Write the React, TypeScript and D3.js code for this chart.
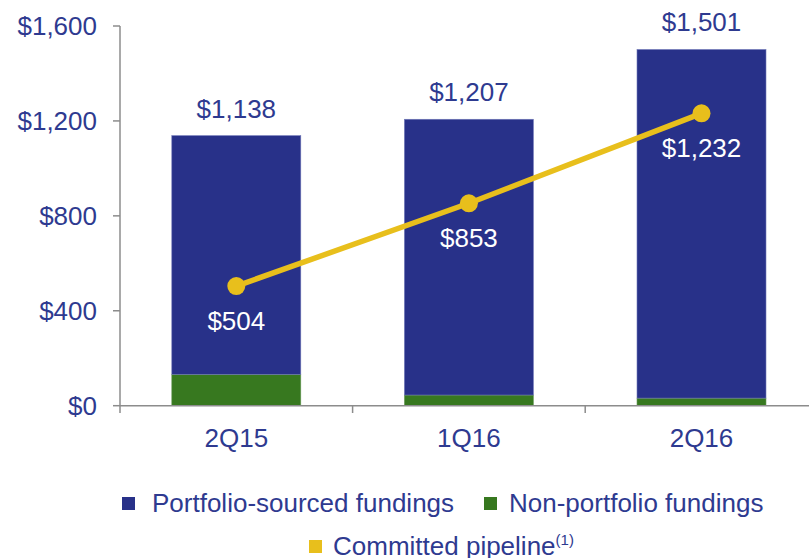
import * as d3 from 'd3';

// values in $ millions
const quarters = ['2Q15', '1Q16', '2Q16'];
const totals = [1138, 1207, 1501];
const nonPortfolio = [132, 45, 32];
const portfolio = totals.map((t, i) => t - nonPortfolio[i]);
const pipeline = [504, 853, 1232];
const yTicks = [0, 400, 800, 1200, 1600];

const NAVY = '#283189';
const GREEN = '#37781f';
const GOLD = '#e8bf1c';
const TEXT = '#2e3a90';
const AXIS = '#8c8c8c';
const FONT = '"Liberation Sans", Arial, sans-serif';
const FS = 26;

function App() {
  const width = 809;
  const height = 558;

  const y = d3.scaleLinear().domain([0, 1600]).range([405.7, 26]);
  const x = d3
    .scaleBand<string>()
    .domain(quarters)
    .range([120, 817.8])
    .paddingInner(0.4454)
    .paddingOuter(0.2227);

  const bw = x.bandwidth();
  const cx = (q: string) => (x(q) as number) + bw / 2;
  const step = x.step();

  const line = d3
    .line<number>()
    .x((_, i) => cx(quarters[i]))
    .y((d) => y(d));

  return (
    <svg
      width={width}
      height={height}
      style={{ position: 'absolute', left: 0, top: 0, background: '#fff' }}
      fontFamily={FONT}
    >
      {/* bars: non-portfolio at the bottom, portfolio-sourced stacked on top */}
      {quarters.map((q, i) => (
        <g key={q}>
          <rect
            x={x(q)}
            y={y(nonPortfolio[i])}
            width={bw}
            height={y(0) - y(nonPortfolio[i])}
            fill={GREEN}
            stroke="#6a9a5a"
            strokeWidth={0.6}
          />
          <rect
            x={x(q)}
            y={y(nonPortfolio[i] + portfolio[i])}
            width={bw}
            height={y(nonPortfolio[i]) - y(totals[i])}
            fill={NAVY}
            stroke="#7078b8"
            strokeWidth={0.6}
          />
          <text
            x={cx(q)}
            y={y(totals[i]) - 18}
            textAnchor="middle"
            fontSize={FS}
            fill={TEXT}
          >
            {d3.format('$,')(totals[i])}
          </text>
        </g>
      ))}

      {/* axes */}
      <line x1={120} x2={120} y1={26} y2={413} stroke={AXIS} strokeWidth={1.5} />
      <line x1={120} x2={809} y1={405.7} y2={405.7} stroke={AXIS} strokeWidth={1.5} />
      {yTicks.map((t) => (
        <g key={t}>
          <line x1={113} x2={120} y1={y(t)} y2={y(t)} stroke={AXIS} strokeWidth={1.5} />
          <text
            x={97}
            y={y(t)}
            dy="0.36em"
            textAnchor="end"
            fontSize={FS}
            fill={TEXT}
          >
            {d3.format('$,')(t)}
          </text>
        </g>
      ))}
      {[1, 2].map((i) => (
        <line
          key={i}
          x1={120 + step * i}
          x2={120 + step * i}
          y1={405.7}
          y2={413}
          stroke={AXIS}
          strokeWidth={1.5}
        />
      ))}
      {quarters.map((q) => (
        <text key={q} x={cx(q)} y={447} textAnchor="middle" fontSize={FS} fill={TEXT}>
          {q}
        </text>
      ))}

      {/* committed pipeline line */}
      <path d={line(pipeline) || ''} fill="none" stroke={GOLD} strokeWidth={5.5} />
      {pipeline.map((v, i) => (
        <g key={i}>
          <circle cx={cx(quarters[i])} cy={y(v)} r={9} fill={GOLD} />
          <text
            x={cx(quarters[i])}
            y={y(v) + 44}
            textAnchor="middle"
            fontSize={FS}
            fill="#fff"
          >
            {d3.format('$,')(v)}
          </text>
        </g>
      ))}

      {/* legend */}
      <rect x={122} y={497} width={13} height={13} fill={NAVY} />
      <text x={152} y={512} fontSize={FS} fill={TEXT}>
        Portfolio-sourced fundings
      </text>
      <rect x={484} y={497} width={13} height={13} fill={GREEN} />
      <text x={509} y={512} fontSize={FS} fill={TEXT}>
        Non-portfolio fundings
      </text>
      <rect x={309} y={540} width={13} height={13} fill={GOLD} />
      <text x={333} y={555} fontSize={FS} fill={TEXT}>
        Committed pipeline
        <tspan fontSize={15} dy={-10}>
          (1)
        </tspan>
      </text>
    </svg>
  );
}

export default App;
